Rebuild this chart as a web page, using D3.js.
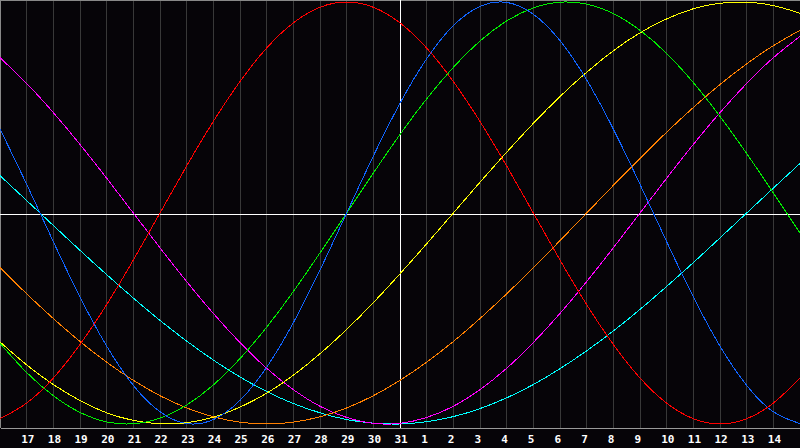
<!DOCTYPE html>
<html>
<head>
<meta charset="utf-8">
<title>Biorhythm</title>
<script src="https://cdn.jsdelivr.net/npm/d3@7"></script>
<style>
    html, body {
        margin: 0;
        padding: 0;
        background: #060408;
        overflow: hidden;
    }

    .grid line {
        stroke: #383838;
        stroke-width: 1px;
        shape-rendering: crispEdges;
    }

    .cycle {
        fill: none;
        stroke-width: 1px;
        shape-rendering: crispEdges;
    }

    .axis text {
        font-family: 'DejaVu Sans Mono', monospace;
        font-weight: bold;
        font-size: 11px;
        fill: #ffffff;
    }
</style>
</head>
<body>
<svg id="chart" width="800" height="448"></svg>

<script>
    // day labels, 16th of one month through the 15th of the next
    var dayLabels = ["16", "17", "18", "19", "20", "21", "22", "23", "24", "25", "26", "27", "28", "29", "30", "31",
        "1", "2", "3", "4", "5", "6", "7", "8", "9", "10", "11", "12", "13", "14", "15"];

    // cycle values per day, percent
    var physical = [39.8, 13.6, -13.6, -39.8, -63.1, -81.7, -94.2, -99.8, -97.9, -88.8, -73.1, -52.0, -27.0, 0, 27.0, 52.0,
        73.1, 88.8, 97.9, 99.8, 94.2, 81.7, 63.1, 39.8, 13.6, -13.6, -39.8, -63.1, -81.7, -94.2, -99.8];
    var emotional = [-97.5, -90.1, -78.2, -62.3, -43.4, -22.3, 0, 22.3, 43.4, 62.3, 78.2, 90.1, 97.5, 100, 97.5, 90.1,
        78.2, 62.3, 43.4, 22.3, 0, -22.3, -43.4, -62.3, -78.2, -90.1, -97.5, -100, -97.5, -90.1, -78.2];
    var intellectual = [-61.8, -75.6, -86.6, -94.5, -99.0, -99.9, -97.2, -91.0, -81.5, -69.0, -54.1, -37.2, -18.9, 0, 18.9, 37.2,
        54.1, 69.0, 81.5, 91.0, 97.2, 99.9, 99.0, 94.5, 86.6, 75.6, 61.8, 45.8, 28.2, 9.5, -9.5];
    var intuitive = [73.6, 61.4, 47.6, 32.5, 16.5, 0, -16.5, -32.5, -47.6, -61.4, -73.6, -83.7, -91.6, -96.9, -99.7, -99.7,
        -96.9, -91.6, -83.7, -73.6, -61.4, -47.6, -32.5, -16.5, 0, 16.5, 32.5, 47.6, 61.4, 73.6, 83.7];
    var aesthetic = [-61.1, -72.0, -81.3, -88.9, -94.7, -98.3, -99.9, -99.4, -96.8, -92.0, -85.4, -76.9, -66.7, -55.2, -42.5, -28.8,
        -14.6, 0, 14.6, 28.8, 42.5, 55.2, 66.7, 76.9, 85.4, 92.0, 96.8, 99.4, 99.9, 98.3, 94.7];
    var awareness = [-25.9, -38.3, -50.0, -60.9, -70.7, -79.3, -86.6, -92.4, -96.6, -99.1, -100, -99.1, -96.6, -92.4, -86.6, -79.3,
        -70.7, -60.9, -50.0, -38.3, -25.9, -13.1, 0, 13.1, 25.9, 38.3, 50.0, 60.9, 70.7, 79.3, 86.6];
    var spiritual = [17.7, 5.9, -5.9, -17.7, -29.2, -40.3, -50.9, -60.7, -69.7, -77.7, -84.6, -90.3, -94.7, -97.9, -99.6, -100,
        -98.9, -96.5, -92.7, -87.6, -81.3, -73.8, -65.3, -55.9, -45.7, -34.8, -23.5, -11.8, 0, 11.8, 23.5];

    var series = [
        { name: "spiritual", color: "#00ffff", values: spiritual },
        { name: "intuitive", color: "#ff00ff", values: intuitive },
        { name: "awareness", color: "#ff8000", values: awareness },
        { name: "aesthetic", color: "#ffff00", values: aesthetic },
        { name: "intellectual", color: "#00ee00", values: intellectual },
        { name: "physical", color: "#1064ff", values: physical },
        { name: "emotional", color: "#ff0000", values: emotional }
    ];

    var width = 800, plotBottom = 428;
    var svg = d3.select("#chart");

    var x = d3.scaleLinear().domain([0, dayLabels.length - 1]).range([0, width]);
    var y = d3.scaleLinear().domain([-100, 100]).range([424, 2]);

    // day grid
    svg.append("g").attr("class", "grid")
        .selectAll("line")
        .data(d3.range(1, dayLabels.length - 1))
        .enter().append("line")
        .attr("x1", function (d) { return Math.floor(x(d)) + 0.5; })
        .attr("x2", function (d) { return Math.floor(x(d)) + 0.5; })
        .attr("y1", 0)
        .attr("y2", plotBottom);

    // frame top / left
    svg.append("line").attr("x1", 0).attr("x2", width).attr("y1", 0.5).attr("y2", 0.5)
        .style("stroke", "#888").style("shape-rendering", "crispEdges");
    svg.append("line").attr("x1", 0.5).attr("x2", 0.5).attr("y1", 0).attr("y2", plotBottom)
        .style("stroke", "#888").style("shape-rendering", "crispEdges");

    // today + zero lines
    var today = 15;
    svg.append("line")
        .attr("x1", Math.floor(x(today)) + 0.5).attr("x2", Math.floor(x(today)) + 0.5)
        .attr("y1", 0).attr("y2", plotBottom)
        .style("stroke", "#fff").style("shape-rendering", "crispEdges");
    svg.append("line")
        .attr("x1", 0).attr("x2", width)
        .attr("y1", Math.round(y(0)) + 1.5).attr("y2", Math.round(y(0)) + 1.5)
        .style("stroke", "#fff").style("shape-rendering", "crispEdges");

    var line = d3.line()
        .x(function (d, i) { return x(i); })
        .y(function (d) { return y(d); })
        .curve(d3.curveNatural);

    svg.append("g").selectAll("path")
        .data(series)
        .enter().append("path")
        .attr("class", "cycle")
        .style("stroke", function (d) { return d.color; })
        .attr("d", function (d) { return line(d.values); });

    // bottom axis with day numbers
    var axis = d3.axisBottom(x)
        .tickValues(d3.range(1, dayLabels.length - 1))
        .tickFormat(function (i) { return dayLabels[i]; })
        .tickSize(0)
        .tickSizeOuter(0)
        .tickPadding(7);

    var gAxis = svg.append("g")
        .attr("class", "axis")
        .attr("transform", "translate(0," + plotBottom + ")")
        .call(axis);
    gAxis.select(".domain").style("stroke", "#999").style("shape-rendering", "crispEdges");
    gAxis.selectAll(".tick text").attr("text-anchor", "start").attr("x", -6);
</script>
</body>
</html>
